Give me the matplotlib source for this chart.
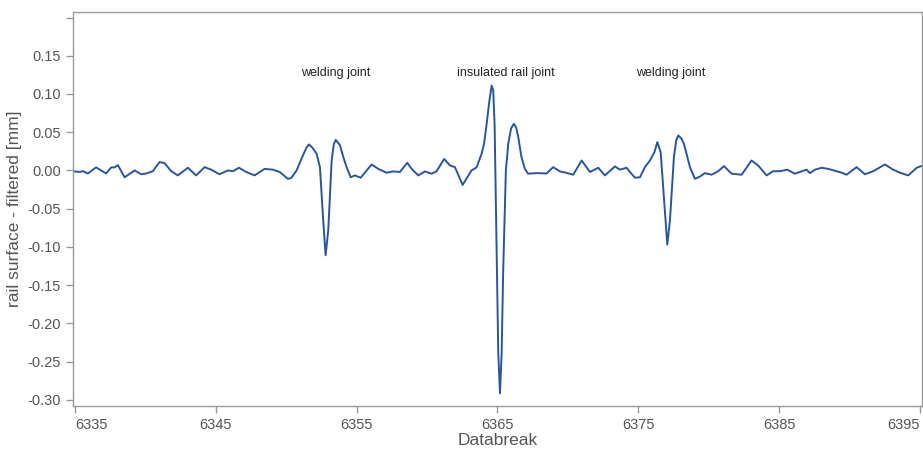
import matplotlib
matplotlib.use("Agg")
import matplotlib.pyplot as plt

# data (Databreak position, filtered rail surface in mm)
databreak = [
    6334.86, 6335.33, 6335.57, 6335.92, 6336.51, 6337.22, 6337.58, 6337.82, 6338.05, 6338.53,
    6339.24, 6339.71, 6340.06, 6340.54, 6341.01, 6341.37, 6341.84, 6342.31, 6343.02, 6343.61,
    6344.21, 6344.68, 6345.27, 6345.86, 6346.22, 6346.65, 6347.16, 6347.76, 6348.47, 6349.06,
    6349.54, 6350.12, 6350.36, 6350.74, 6351.19, 6351.45, 6351.62, 6351.85, 6352.16, 6352.40,
    6352.63, 6352.80, 6352.99, 6353.23, 6353.38, 6353.52, 6353.82, 6354.05, 6354.29, 6354.58,
    6354.88, 6355.29, 6356.07, 6356.54, 6357.13, 6357.60, 6358.08, 6358.60, 6358.91, 6359.38,
    6359.85, 6360.33, 6360.68, 6361.22, 6361.63, 6361.98, 6362.53, 6363.16, 6363.52, 6363.88,
    6364.05, 6364.23, 6364.42, 6364.59, 6364.70, 6364.80, 6364.89, 6365.06, 6365.18, 6365.30,
    6365.41, 6365.60, 6365.77, 6365.97, 6366.17, 6366.33, 6366.48, 6366.70, 6366.95, 6367.18,
    6367.78, 6368.49, 6368.96, 6369.44, 6369.86, 6370.38, 6370.98, 6371.33, 6371.57, 6372.16,
    6372.63, 6373.34, 6373.70, 6374.17, 6374.41, 6374.76, 6375.12, 6375.47, 6375.83, 6376.15,
    6376.35, 6376.59, 6376.77, 6377.06, 6377.25, 6377.53, 6377.70, 6377.84, 6378.05, 6378.24,
    6378.67, 6379.02, 6379.38, 6379.73, 6380.21, 6380.68, 6381.08, 6381.63, 6382.34, 6383.04,
    6383.51, 6384.11, 6384.58, 6385.06, 6385.58, 6386.12, 6386.95, 6387.19, 6387.54, 6388.02,
    6388.49, 6389.08, 6389.44, 6389.79, 6390.50, 6391.09, 6391.68, 6392.51, 6393.10, 6393.58,
    6394.17, 6394.77, 6395.21,
]
surface = [
    -0.001, -0.002, -0.001, -0.004, 0.004, -0.004, 0.004, 0.004, 0.007, -0.009,
    0.000, -0.005, -0.004, -0.001, 0.011, 0.0095, -0.001, -0.0065, 0.0035, -0.0065,
    0.0043, 0.001, -0.005, 0.000, -0.001, 0.0035, -0.002, -0.0065, 0.002, 0.001,
    -0.002, -0.011, -0.010, 0.000, 0.0196, 0.030, 0.034, 0.030, 0.022, 0.004,
    -0.065, -0.111, -0.078, 0.013, 0.034, 0.040, 0.033, 0.018, 0.0043, -0.009,
    -0.0065, -0.0095, 0.0078, 0.002, -0.003, -0.0013, -0.002, 0.010, 0.002, -0.0065,
    -0.0013, -0.0043, -0.001, 0.015, 0.0065, 0.0043, -0.019, 0.000, 0.004, 0.022,
    0.035, 0.060, 0.090, 0.111, 0.105, 0.060, -0.043, -0.239, -0.2915, -0.239,
    -0.13, 0.000, 0.035, 0.055, 0.061, 0.056, 0.0435, 0.018, 0.002, -0.0043,
    -0.0035, -0.004, 0.0043, -0.0013, -0.003, -0.0056, 0.013, 0.004, -0.002, 0.0035,
    -0.0065, 0.0052, 0.001, 0.0035, -0.002, -0.0095, -0.009, 0.0043, 0.013, 0.024,
    0.037, 0.024, -0.022, -0.097, -0.065, 0.0174, 0.040, 0.0457, 0.042, 0.035,
    0.0043, -0.011, -0.008, -0.0035, -0.0056, -0.001, 0.0056, -0.0043, -0.0056, 0.013,
    0.0065, -0.0065, -0.001, -0.001, 0.001, -0.0043, 0.001, -0.0035, 0.001, 0.0035,
    0.002, -0.001, -0.003, -0.0056, 0.0043, -0.005, -0.001, 0.0078, 0.001, -0.003,
    -0.0065, 0.0035, 0.0065,
]

notes = ["welding joint", "insulated rail joint", "welding joint"]
note_x = [6353.5, 6365.6, 6377.3]
note_y = 0.128

x_ticks = [6335, 6345, 6355, 6365, 6375, 6385, 6395]
y_ticks = [-0.30, -0.25, -0.20, -0.15, -0.10, -0.05, 0.00, 0.05, 0.10, 0.15, 0.20]

plt.rcParams['font.family'] = ['Liberation Sans', 'DejaVu Sans']

fig = plt.figure(figsize=(9.23, 4.51), dpi=100)
ax = fig.add_axes([0.079, 0.100, 0.920, 0.873])

ax.plot(databreak, surface, color="#2b559a", lw=1.4)

for label, xx in zip(notes, note_x):
    ax.text(xx, note_y, label, ha="center", va="center", fontsize=9, color="#222222")

ax.set_xlim(6334.86, 6395.15)
ax.set_ylim(-0.308, 0.207)
ax.set_xticks(x_ticks)
ax.set_yticks(y_ticks)
ax.set_yticklabels([f"{v:.2f}" if v < 0.19 else "" for v in y_ticks])

for s in ax.spines.values():
    s.set_color("#999999")
    s.set_linewidth(1.0)
ax.tick_params(colors="#999999", labelcolor="#555555", labelsize=10.5, length=5, width=1)

xlabels = ax.get_xticklabels()
xlabels[0].set_horizontalalignment("left")
xlabels[-1].set_horizontalalignment("right")

ax.set_xlabel("Databreak", fontsize=12.5, color="#555555", labelpad=1)
ax.set_ylabel("rail surface - filtered [mm]", fontsize=12.5, color="#555555", labelpad=4)

fig.savefig("out.png", dpi=100)
